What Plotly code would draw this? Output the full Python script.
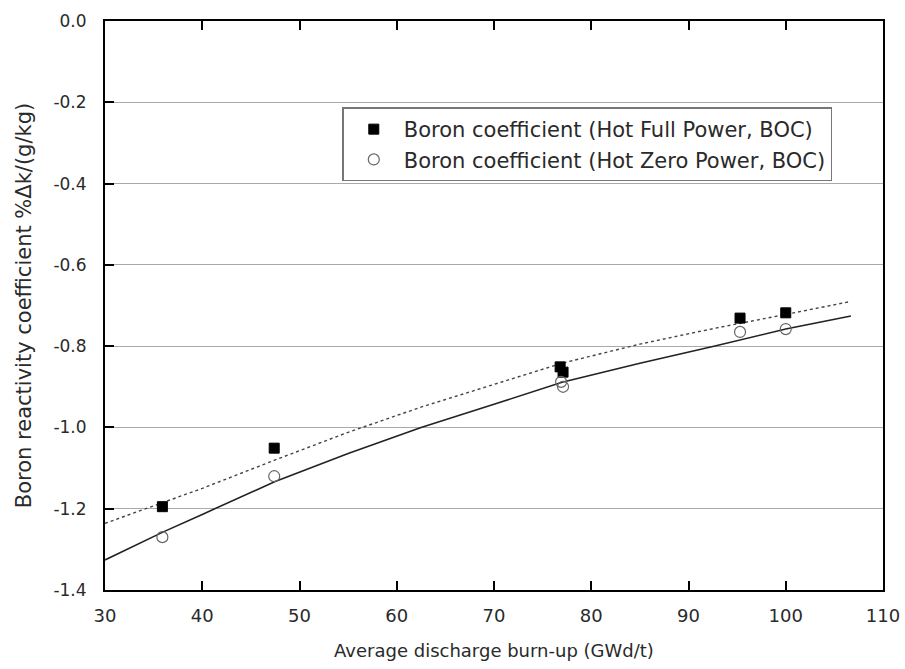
import plotly.graph_objects as go

# Measured points
hfp_x = [35.9, 47.4, 76.8, 77.1, 95.3, 100.0]
hfp_y = [-1.195, -1.051, -0.851, -0.864, -0.731, -0.718]
hzp_x = [35.9, 47.4, 76.9, 77.1, 95.3, 100.0]
hzp_y = [-1.270, -1.120, -0.888, -0.900, -0.765, -0.758]

# Fit curves
fit_x = [30, 36, 40, 47.5, 55, 62.5, 70, 77, 85, 92.5, 100, 106.7]
hzp_fit_y = [-1.326, -1.257, -1.214, -1.133, -1.064, -1.000, -0.943, -0.889,
             -0.842, -0.801, -0.758, -0.726]
hfp_fit_y = [-1.236, -1.185, -1.150, -1.080, -1.012, -0.950, -0.895, -0.842,
             -0.795, -0.757, -0.722, -0.690]

x_ticks = [30, 40, 50, 60, 70, 80, 90, 100, 110]
y_ticks = [0.0, -0.2, -0.4, -0.6, -0.8, -1.0, -1.2, -1.4]
y_tick_text = ["0.0", "-0.2", "-0.4", "-0.6", "-0.8", "-1.0", "-1.2", "-1.4"]

FONT = "DejaVu Sans, Verdana, sans-serif"

fig = go.Figure()
fig.add_trace(go.Scatter(x=fit_x, y=hzp_fit_y, mode="lines", showlegend=False,
                         line=dict(color="#222", width=1.6), hoverinfo="skip"))
fig.add_trace(go.Scatter(x=fit_x, y=hfp_fit_y, mode="lines", showlegend=False,
                         line=dict(color="#444", width=1.4, dash="dot"), hoverinfo="skip"))
fig.add_trace(go.Scatter(x=hfp_x, y=hfp_y, mode="markers",
                         name="Boron coefficient (Hot Full Power, BOC)",
                         marker=dict(symbol="square", size=10, color="black",
                                     line=dict(color="black", width=1))))
fig.add_trace(go.Scatter(x=hzp_x, y=hzp_y, mode="markers",
                         name="Boron coefficient (Hot Zero Power, BOC)",
                         marker=dict(symbol="circle-open", size=11, color="#666",
                                     line=dict(width=1.2))))

fig.update_layout(
    width=905, height=669,
    margin=dict(l=105, r=22, t=21, b=79),
    paper_bgcolor="white", plot_bgcolor="white",
    font=dict(family=FONT, size=17, color="#2a2a2a"),
    legend=dict(x=0.305, y=0.848, xanchor="left", yanchor="top",
                bgcolor="white", bordercolor="#777", borderwidth=1.5,
                font=dict(family=FONT, size=21, color="#2a2a2a"),
                tracegroupgap=0, itemwidth=50),
    xaxis=dict(range=[30, 110], tickvals=x_ticks, showgrid=False,
               ticks="inside", ticklen=9, tickwidth=2, tickcolor="black",
               showline=True, linewidth=2, linecolor="black", mirror="ticks",
               zeroline=False, ticklabelstandoff=8, automargin=False,
               tickfont=dict(size=18),
               title=dict(text="Average discharge burn-up (GWd/t)",
                          font=dict(size=18), standoff=20)),
    yaxis=dict(range=[-1.4, 0.0], tickvals=y_ticks, ticktext=y_tick_text,
               showgrid=True, gridcolor="#aaa", gridwidth=1.2,
               ticks="inside", ticklen=9, tickwidth=2, tickcolor="black",
               showline=True, linewidth=2, linecolor="black", mirror=True,
               zeroline=False, ticklabelstandoff=13, automargin=False,
               tickfont=dict(size=17),
               title=dict(text="Boron reactivity coefficient %Δk/(g/kg)",
                          font=dict(size=21), standoff=16)),
)

fig.write_html("out.html")
